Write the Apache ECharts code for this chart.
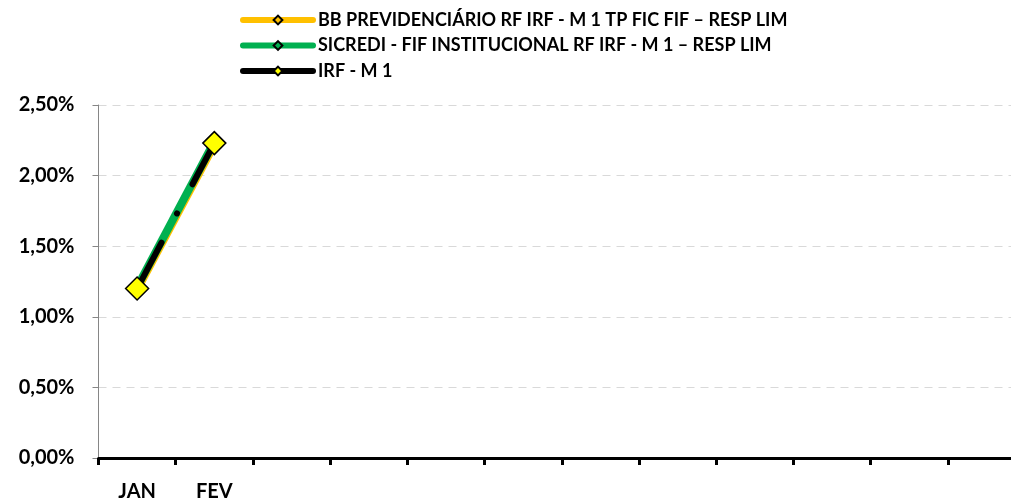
<!DOCTYPE html>
<html>
<head>
<meta charset="utf-8">
<script src="https://cdn.jsdelivr.net/npm/echarts@6/dist/echarts.min.js"></script>
<style>
html,body{margin:0;padding:0;background:#fff;overflow:hidden;width:1011px;height:502px;}
#chart{width:1025px;height:502px;}
</style>
</head>
<body>
<div id="chart"></div>
<script>
var categories = ['JAN','FEV','MAR','ABR','MAI','JUN','JUL','AGO','SET','OUT','NOV','DEZ'];
var shownLabels = ['JAN','FEV'];
var seriesNames = ['BB PREVIDENCIÁRIO RF IRF - M 1 TP FIC FIF – RESP LIM','SICREDI - FIF INSTITUCIONAL RF IRF - M 1 – RESP LIM','IRF - M 1'];
var bbValues = [1.19, 2.22];
var sicrediValues = [1.21, 2.24];
var irfValues = [1.20, 2.23];
var yTicks = [0, 0.5, 1.0, 1.5, 2.0, 2.5];

var FONT = 'Lato';
var chart = echarts.init(document.getElementById('chart'));
chart.setOption({
  animation: false,
  backgroundColor: '#ffffff',
  textStyle: {fontFamily: FONT},
  legend: {
    orient: 'vertical',
    left: 235,
    top: 6,
    itemWidth: 70,
    itemHeight: 11,
    itemGap: 7.5,
    textStyle: {fontFamily: FONT, fontWeight: 'bold', fontSize: 18, color: '#000'},
    lineStyle: {width: 6, cap: 'round', type: 'solid'},
    data: seriesNames
  },
  grid: {left: 98.5, right: 0, top: 105, bottom: 42, containLabel: false},
  xAxis: {
    type: 'category',
    data: categories,
    boundaryGap: true,
    axisLine: {lineStyle: {color: '#000', width: 3}},
    axisTick: {show: true, length: 7, lineStyle: {color: '#000', width: 3}},
    axisLabel: {
      margin: 24, fontFamily: FONT, fontWeight: 'bold', fontSize: 20, color: '#000',
      interval: 0,
      formatter: function (v) { return shownLabels.indexOf(v) >= 0 ? v : ''; }
    },
    splitLine: {show: false}
  },
  yAxis: {
    type: 'value',
    min: yTicks[0],
    max: yTicks[yTicks.length - 1],
    interval: 0.5,
    axisLine: {show: true, lineStyle: {color: '#868686', width: 1}},
    axisTick: {show: true, length: 6, lineStyle: {color: '#868686'}},
    axisLabel: {
      margin: 24, fontFamily: FONT, fontWeight: 'bold', fontSize: 20, color: '#000',
      formatter: function (v) { return v.toFixed(2).replace('.', ',') + '%'; }
    },
    splitLine: {show: true, lineStyle: {color: '#d9d9d9', type: [8, 6], width: 1}}
  },
  series: [
    {
      name: seriesNames[0], type: 'line', data: bbValues,
      symbol: 'diamond', symbolSize: 9,
      lineStyle: {color: '#FFC000', width: 8},
      itemStyle: {color: '#FFC000', borderColor: '#000', borderWidth: 1.5}
    },
    {
      name: seriesNames[1], type: 'line', data: sicrediValues,
      symbol: 'diamond', symbolSize: 9,
      lineStyle: {color: '#00B050', width: 8},
      itemStyle: {color: '#00B050', borderColor: '#000', borderWidth: 1.5}
    },
    {
      name: seriesNames[2], type: 'line', data: irfValues,
      symbol: 'diamond', symbolSize: 23,
      lineStyle: {color: '#000', width: 6, type: [52, 33, 0.1, 33], cap: 'round'},
      itemStyle: {color: '#FFFF00', borderColor: '#000', borderWidth: 1.5}
    }
  ]
});
</script>
</body>
</html>
